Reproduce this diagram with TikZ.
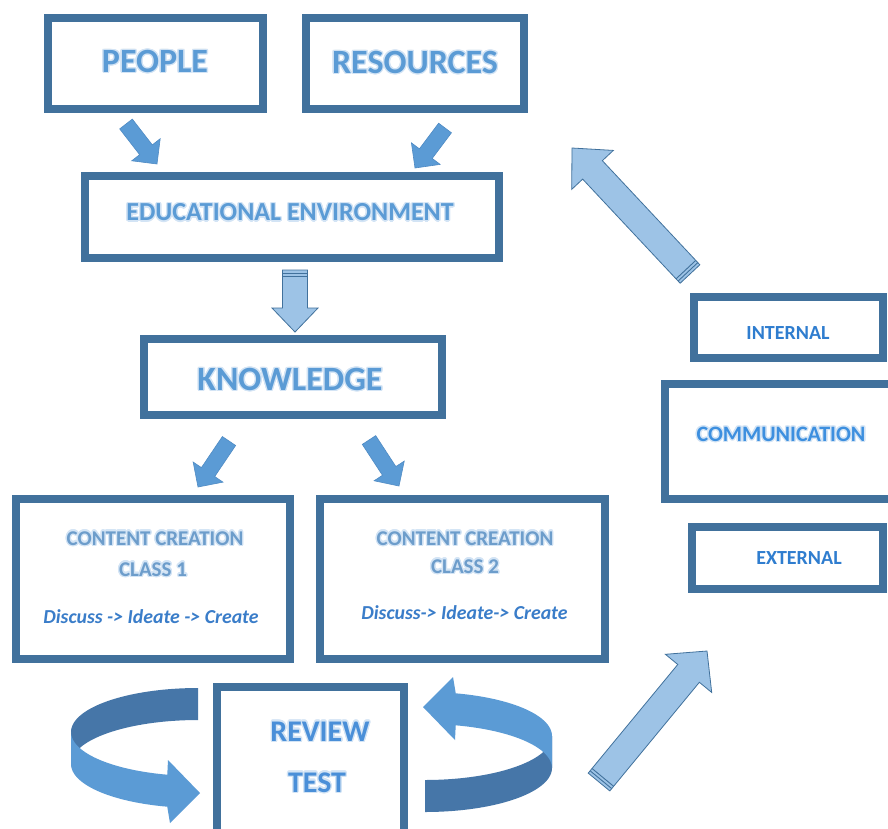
\documentclass[tikz,border=0pt]{standalone}
\usepackage{fontspec}
\setmainfont{Carlito}
\usepackage{contour}
\contourlength{1.3pt}
\contournumber{16}
\usetikzlibrary{calc}
\definecolor{boxc}{HTML}{41719C}
\definecolor{titc}{HTML}{5B9BD5}
\definecolor{glowc}{HTML}{D3E4F5}
\definecolor{iec}{HTML}{2F7DCF}
\definecolor{commc}{HTML}{3D8FDF}
\definecolor{ccc}{HTML}{6D9DCB}
\definecolor{disc}{HTML}{3A7DC9}
\definecolor{revc}{HTML}{4A8FD8}
\definecolor{sarf}{HTML}{5B9BD5}
\definecolor{sard}{HTML}{4F8BC4}
\definecolor{barf}{HTML}{9DC3E6}
\definecolor{ribd}{HTML}{4676A8}
\definecolor{ribl}{HTML}{5B9BD5}
\newcommand{\blockarrow}[6]{%
  \coordinate (baneck) at ($(#3)!#6!(#2)$);
  \draw[#1] ($(#2)!#4!90:(#3)$) -- ($(baneck)!#4!-90:(#2)$) -- ($(baneck)!#5!-90:(#2)$) -- (#3)
    -- ($(baneck)!#5!90:(#2)$) -- ($(baneck)!#4!90:(#2)$) -- ($(#2)!#4!-90:(#3)$) -- cycle;
}
\newcommand{\stripeline}[4]{%
  \coordinate (bastr) at ($(#1)!#3!(#2)$);
  \draw[boxc, line width=0.9pt] ($(bastr)!#4!90:(#2)$) -- ($(bastr)!#4!-90:(#2)$);
}
\newcommand{\glowtext}[1]{\contour{glowc}{#1}}
\begin{document}
\begin{tikzpicture}[x=1pt,y=-1pt,
  box/.style={draw=boxc, line width=8pt, fill=white, inner sep=0pt},
  lbl/.style={inner sep=0pt, font=\bfseries},
  smallarr/.style={fill=sarf, draw=sard, line width=0.6pt, line join=miter},
  bigarr/.style={fill=barf, draw=boxc, line width=0.8pt, line join=miter}]
\useasboundingbox (0,0) rectangle (888,828);
\clip (0,0) rectangle (888,828);
\fill[white] (0,0) rectangle (888,828);

% boxes
\node[box, minimum width=215pt, minimum height=91pt] (people) at (155.5,63.5) {};
\node[box, minimum width=218pt, minimum height=91pt] (resources) at (415,63.5) {};
\node[box, minimum width=414pt, minimum height=82pt] (edu) at (292,217) {};
\node[box, minimum width=298pt, minimum height=76pt] (know) at (293,377) {};
\node[box, minimum width=274pt, minimum height=160pt] (cc1) at (153,579) {};
\node[box, minimum width=285pt, minimum height=160pt] (cc2) at (462.5,579) {};
\node[box, minimum width=187pt, minimum height=173pt] (review) at (310.5,773.5) {};
\node[box, minimum width=189pt, minimum height=61pt] (internal) at (788.5,327.5) {};
\node[box, minimum width=245pt, minimum height=115pt] (comm) at (787.5,441.5) {};
\node[box, minimum width=191pt, minimum height=62pt] (external) at (787.5,558) {};

% texts
\node[lbl, text=titc, font=\bfseries\fontsize{34}{38}\selectfont] (tpeople) at (155,62) {\glowtext{PEOPLE}};
\node[lbl, text=titc, font=\bfseries\fontsize{34}{38}\selectfont] (tres) at (415,63) {\glowtext{RESOURCES}};
\node[lbl, text=titc, font=\bfseries\fontsize{26}{30}\selectfont] (tedu) at (290,213) {\glowtext{EDUCATIONAL ENVIRONMENT}};
\node[lbl, text=titc, font=\bfseries\fontsize{34}{38}\selectfont] (tknow) at (290,380) {\glowtext{KNOWLEDGE}};
\node[lbl, text=iec, font=\bfseries\fontsize{20}{24}\selectfont] (tint) at (788,333) {INTERNAL};
\node[lbl, text=commc, font=\bfseries\fontsize{22}{26}\selectfont] (tcomm) at (781,435) {\glowtext{COMMUNICATION}};
\node[lbl, text=iec, font=\bfseries\fontsize{20}{24}\selectfont] (text) at (799,558) {EXTERNAL};
\node[lbl, text=ccc, font=\bfseries\fontsize{21}{25}\selectfont] (tcc1a) at (155,539) {\glowtext{CONTENT CREATION}};
\node[lbl, text=ccc, font=\bfseries\fontsize{21}{25}\selectfont] (tcc1b) at (153,570) {\glowtext{CLASS 1}};
\node[lbl, text=disc, font=\bfseries\itshape\fontsize{19.8}{23}\selectfont] (tcc1c) at (151,617) {Discuss -> Ideate -> Create};
\node[lbl, text=ccc, font=\bfseries\fontsize{21}{25}\selectfont] (tcc2a) at (465,539) {\glowtext{CONTENT CREATION}};
\node[lbl, text=ccc, font=\bfseries\fontsize{21}{25}\selectfont] (tcc2b) at (465,567) {\glowtext{CLASS 2}};
\node[lbl, text=disc, font=\bfseries\itshape\fontsize{19.8}{23}\selectfont] (tcc2c) at (464.5,613) {Discuss-> Ideate-> Create};
\node[lbl, text=revc, font=\bfseries\fontsize{30}{34}\selectfont] (trev) at (320,732) {\glowtext{REVIEW}};
\node[lbl, text=revc, font=\bfseries\fontsize{30}{34}\selectfont] (ttest) at (317,783) {\glowtext{TEST}};

% small arrows
\coordinate (a1t) at (126,124); \coordinate (a1h) at (157,164);
\coordinate (a2t) at (445,128); \coordinate (a2h) at (415,168);
\coordinate (a3t) at (229,441); \coordinate (a3h) at (198,487);
\coordinate (a4t) at (369,440); \coordinate (a4h) at (399,486);
\blockarrow{smallarr}{a1t}{a1h}{8pt}{18pt}{18pt}
\blockarrow{smallarr}{a2t}{a2h}{8pt}{18pt}{18pt}
\blockarrow{smallarr}{a3t}{a3h}{8pt}{18pt}{18pt}
\blockarrow{smallarr}{a4t}{a4h}{8pt}{18pt}{18pt}

% down arrow (striped)
\coordinate (dt) at (295,270); \coordinate (dh) at (295,332);
\blockarrow{bigarr}{dt}{dh}{12.5pt}{23pt}{24pt}
\stripeline{dt}{dh}{3pt}{12.5pt}
\stripeline{dt}{dh}{6pt}{12.5pt}

% big arrows (striped)
\coordinate (b1t) at (690,274); \coordinate (b1h) at (572,148);
\blockarrow{bigarr}{b1t}{b1h}{13.5pt}{28.5pt}{30pt}
\stripeline{b1t}{b1h}{3pt}{13.5pt}
\stripeline{b1t}{b1h}{6pt}{13.5pt}
\coordinate (b2t) at (599,782); \coordinate (b2h) at (707,651);
\blockarrow{bigarr}{b2t}{b2h}{14pt}{30pt}{29pt}
\stripeline{b2t}{b2h}{3pt}{14pt}
\stripeline{b2t}{b2h}{6pt}{14pt}

% circular ribbons
\newcommand{\ribbon}{%
  \fill[ribd] plot[domain=270:180, samples=40] ({198+127*cos(\x)},{732+44*sin(\x)})
    -- plot[domain=180:270, samples=40] ({198+127*cos(\x)},{764+44*sin(\x)}) -- cycle;
  \fill[ribl] plot[domain=180:104, samples=40] ({198+127*cos(\x)},{732+44*sin(\x)})
    -- (168,760) -- (200,793) -- (170,823)
    -- plot[domain=104:180, samples=40] ({198+127*cos(\x)},{764+44*sin(\x)}) -- cycle;
}
\ribbon
\begin{scope}[rotate around={180:(311.5,750)}]
\ribbon
\end{scope}
\end{tikzpicture}
\end{document}
